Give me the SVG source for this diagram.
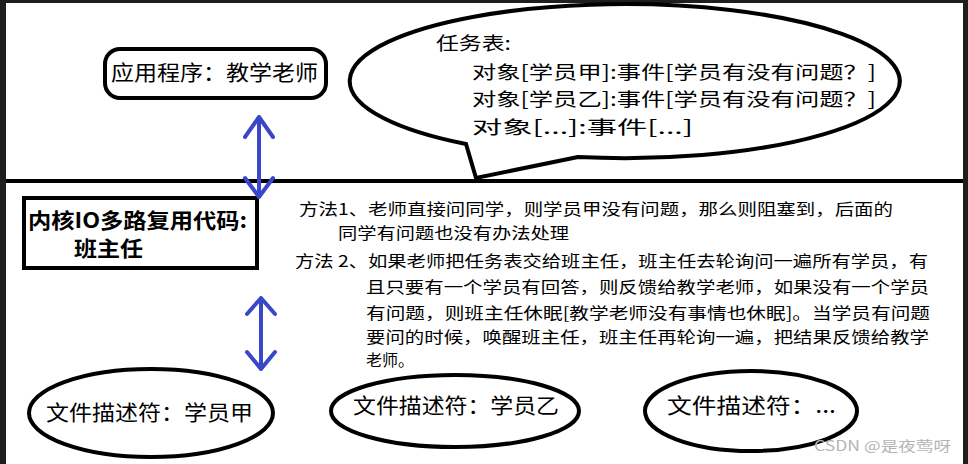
<svg xmlns="http://www.w3.org/2000/svg" width="968" height="464" viewBox="0 0 968 464">
<style>
.ol{fill:#fff;stroke:#000;stroke-width:4}
.t{font-family:"Noto Sans CJK SC","Liberation Sans",sans-serif;fill:#000}
.big{font-size:21px}
.mid{font-size:18.5px}
.sm{font-size:16px}
.b{font-weight:bold}
.arr{fill:none;stroke:#3a47c9;stroke-width:4;stroke-linecap:round;stroke-linejoin:round}
</style>
<rect x="0" y="0" width="968" height="464" fill="#fff"/>
<rect x="0" y="0" width="968" height="3" fill="#1e1e1e"/>
<rect x="0" y="0" width="6" height="464" fill="#1e1e1e"/>
<rect x="963" y="0" width="5" height="464" fill="#1e1e1e"/>
<line x1="6" y1="181" x2="963" y2="181" stroke="#000" stroke-width="4"/>

<g id="app">
<rect class="ol" x="105" y="49" width="221" height="49" rx="15"/>
<text class="t big" x="111" y="80" textLength="207" lengthAdjust="spacingAndGlyphs">应用程序：教学老师</text>
</g>

<g id="tasktable">
<path class="ol" d="M 578 157 L 476 178 L 466 144 A 275 77 0 1 1 578 157 Z"/>
<text class="t mid" x="436" y="50" textLength="75" lengthAdjust="spacingAndGlyphs">任务表:</text>
<text class="t mid" x="472" y="79" textLength="404" lengthAdjust="spacingAndGlyphs">对象[学员甲]:事件[学员有没有问题？]</text>
<text class="t mid" x="472" y="106" textLength="404" lengthAdjust="spacingAndGlyphs">对象[学员乙]:事件[学员有没有问题？]</text>
<text class="t mid" x="472" y="134" textLength="221" lengthAdjust="spacingAndGlyphs">对象[...]:事件[...]</text>
</g>

<g id="kernel">
<rect class="ol" x="24" y="198" width="233" height="70"/>
<text class="t big b" x="28" y="228" textLength="219" lengthAdjust="spacingAndGlyphs">内核IO多路复用代码:</text>
<text class="t big b" x="74" y="256" textLength="69" lengthAdjust="spacingAndGlyphs">班主任</text>
</g>

<g id="methods">
<text class="t sm" x="299" y="215" textLength="594" lengthAdjust="spacingAndGlyphs">方法1、老师直接问同学，则学员甲没有问题，那么则阻塞到，后面的</text>
<text class="t sm" x="338" y="239" textLength="231" lengthAdjust="spacingAndGlyphs">同学有问题也没有办法处理</text>
<text class="t sm" x="295" y="267" textLength="633" lengthAdjust="spacingAndGlyphs">方法 2、如果老师把任务表交给班主任，班主任去轮询问一遍所有学员，有</text>
<text class="t sm" x="366" y="293" textLength="563" lengthAdjust="spacingAndGlyphs">且只要有一个学员有回答，则反馈给教学老师，如果没有一个学员</text>
<text class="t sm" x="366" y="319" textLength="564" lengthAdjust="spacingAndGlyphs">有问题，则班主任休眠[教学老师没有事情也休眠]。当学员有问题</text>
<text class="t sm" x="366" y="343" textLength="563" lengthAdjust="spacingAndGlyphs">要问的时候，唤醒班主任，班主任再轮询一遍，把结果反馈给教学</text>
<text class="t sm" x="366" y="366" textLength="48" lengthAdjust="spacingAndGlyphs">老师。</text>
</g>

<g id="fd1">
<ellipse class="ol" cx="151" cy="413" rx="122" ry="44"/>
<text class="t big" x="46" y="420" textLength="207" lengthAdjust="spacingAndGlyphs">文件描述符：学员甲</text>
</g>
<g id="fd2">
<ellipse class="ol" cx="455" cy="411" rx="124" ry="36"/>
<text class="t big" x="353" y="413" textLength="206" lengthAdjust="spacingAndGlyphs">文件描述符：学员乙</text>
</g>
<g id="fd3">
<ellipse class="ol" cx="751" cy="411" rx="106" ry="40"/>
<text class="t big" x="667" y="413" textLength="169" lengthAdjust="spacingAndGlyphs">文件描述符：...</text>
</g>

<g id="connectors">
<path class="arr" d="M 259 117 L 259 197 M 245 137 L 259 117 L 273 137 M 245 178 L 259 197 L 273 178"/>
<path class="arr" d="M 261 298 L 261 369 M 247 314 L 261 298 L 275 314 M 247 352 L 261 369 L 275 352"/>
</g>

<text x="814" y="451" font-family="Noto Sans CJK SC, Liberation Sans, sans-serif" font-size="14" fill="#b4b4b4" textLength="137" lengthAdjust="spacingAndGlyphs">CSDN @是夜莺呀</text>
</svg>
